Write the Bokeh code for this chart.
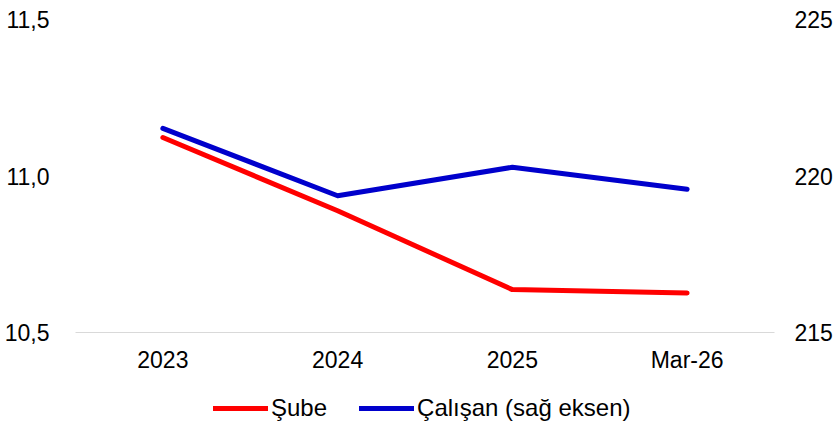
from bokeh.plotting import figure
from bokeh.layouts import column
from bokeh.models import (Range1d, LinearAxis, FixedTicker, CustomJSTickFormatter,
                          Legend, LegendItem)
from bokeh.embed import file_html
from bokeh.resources import INLINE

categories = ["2023", "2024", "2025", "Mar-26"]
sube = [11.123, 10.889, 10.637, 10.626]
calisan = [221.52, 219.37, 220.28, 219.58]
left_ticks = [10.5, 11.0, 11.5]
right_ticks = [215, 220, 225]
series_names = ["Şube", "Çalışan (sağ eksen)"]

FONT = "Liberation Sans"
RED = "#FF0000"
BLUE = "#0000CC"

p = figure(x_range=categories, y_range=Range1d(10.5, 11.5), width=835, height=375,
           output_backend="svg", toolbar_location=None,
           min_border_left=75, min_border_right=60, min_border_top=19, min_border_bottom=42)
p.outline_line_color = None
p.xgrid.grid_line_color = None
p.ygrid.grid_line_color = None
p.extra_y_ranges = {"right": Range1d(215, 225)}

p.line(categories, sube, line_color=RED, line_width=5, line_cap="round", line_join="round")
p.line(categories, calisan, line_color=BLUE, line_width=5, line_cap="round", line_join="round",
       y_range_name="right")

ya = p.yaxis[0]
ya.ticker = FixedTicker(ticks=left_ticks)
ya.formatter = CustomJSTickFormatter(code="return tick.toFixed(1).replace('.', ',');")
ya.axis_line_color = None
ya.major_tick_line_color = None
ya.minor_tick_line_color = None
ya.major_label_standoff = 20
ya.major_label_text_font = FONT
ya.major_label_text_font_size = "23px"
ya.major_label_text_color = "#000000"

rax = LinearAxis(y_range_name="right", ticker=FixedTicker(ticks=right_ticks))
rax.axis_line_color = None
rax.major_tick_line_color = None
rax.minor_tick_line_color = None
rax.major_label_standoff = 14
rax.major_label_text_font = FONT
rax.major_label_text_font_size = "23px"
rax.major_label_text_color = "#000000"
p.add_layout(rax, "right")

xa = p.xaxis[0]
xa.axis_line_color = "#D9D9D9"
xa.axis_line_width = 1
xa.major_tick_line_color = None
xa.minor_tick_line_color = None
xa.major_label_standoff = 8
xa.major_label_text_font = FONT
xa.major_label_text_font_size = "23px"
xa.major_label_text_color = "#000000"

# legend strip below the chart
nan = float("nan")
lg = figure(width=835, height=50, output_backend="svg", toolbar_location=None,
            x_axis_type=None, y_axis_type=None,
            x_range=Range1d(0, 1), y_range=Range1d(0, 1),
            min_border_left=0, min_border_right=0, min_border_top=0, min_border_bottom=0)
lg.outline_line_color = None
lg.xgrid.grid_line_color = None
lg.ygrid.grid_line_color = None
k1 = lg.line([nan], [nan], line_color=RED, line_width=5, line_cap="round")
k2 = lg.line([nan], [nan], line_color=BLUE, line_width=5, line_cap="round")

legend = Legend(items=[LegendItem(label=series_names[0], renderers=[k1]),
                       LegendItem(label=series_names[1], renderers=[k2])],
                orientation="horizontal", location=(138, 3))
legend.label_text_font = FONT
legend.label_text_font_size = "24px"
legend.label_text_color = "#000000"
legend.label_height = 24
legend.glyph_width = 55
legend.glyph_height = 24
legend.label_standoff = 3
legend.spacing = 32
legend.padding = 2
legend.margin = 0
legend.border_line_color = None
legend.background_fill_alpha = 0
lg.add_layout(legend, "center")

layout = column(p, lg, spacing=0)
open("out.html", "w").write(file_html(layout, INLINE))
